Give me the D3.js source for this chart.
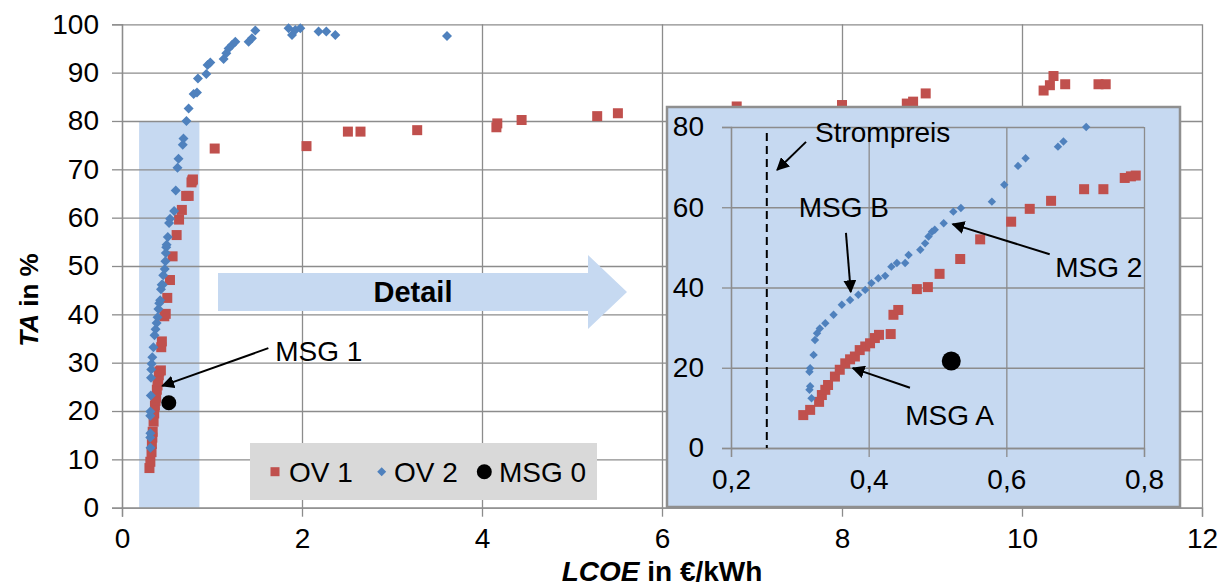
<!DOCTYPE html>
<html><head><meta charset="utf-8">
<script src="https://cdn.jsdelivr.net/npm/d3@7"></script>
<style>
body{margin:0;background:#fff}
svg{display:block}
text{font-family:"Liberation Sans",Arial,sans-serif;fill:#000}
</style>
</head><body>
<svg id="c" width="1222" height="587"></svg>
<script>
// ---------- data ----------
const ov1X = [0.305,0.315,0.328,0.332,0.337,0.341,0.351,0.358,0.366,0.373,0.380,0.387,0.395,0.402,0.409,0.415,0.432,0.436,0.443,0.470,0.486,0.503,0.533,0.562,0.607,0.634,0.665,0.713,0.741,0.772,0.781,0.788,
  1.03,2.05,2.51,2.65,3.28,4.16,4.17,4.44,5.28,5.51,6.83,8.00,8.72,8.79,8.93,10.24,10.31,10.35,10.48,10.85,10.93];
const ov1Y = [8.2,9.5,11.5,13.2,14.5,15.7,17.8,19.5,21.1,22.1,22.8,24.4,25.3,26.1,27.4,28.2,28.4,33.2,34.4,39.6,40.1,43.4,47.1,52.0,56.4,59.6,61.6,64.5,64.5,67.3,67.7,67.9,
  74.3,74.8,77.8,77.8,78.1,78.7,79.5,80.2,81.0,81.6,83.0,83.3,83.6,84.0,85.7,86.3,87.4,89.3,87.6,87.6,87.6];
const ov2X = [0.317,0.314,0.315,0.314,0.315,0.320,0.322,0.325,0.329,0.337,0.349,0.361,0.373,0.385,0.395,0.404,0.414,0.424,0.433,0.441,0.453,0.458,0.475,0.482,0.487,0.492,0.496,0.509,0.523,0.534,0.579,0.597,0.617,0.628,0.675,0.683,0.716,
  0.74,0.796,0.833,0.844,0.937,0.951,0.981,1.129,1.159,1.184,1.222,1.259,1.407,1.444,1.481,1.851,1.889,1.926,1.981,2.184,2.27,2.37,3.611];
const ov2Y = [12.4,14.5,15.4,19.0,19.9,23.2,26.9,28.6,29.8,31.1,33.2,35.7,36.9,38.2,39.4,41.1,42.3,42.9,45.2,46.1,46.1,48.1,49.4,51.0,52.7,53.9,54.4,56.0,58.9,59.8,61.4,65.6,70.3,72.2,75.1,76.4,80.0,
  82.6,85.6,85.9,88.8,89.7,91.6,92.1,92.8,94.0,95.0,95.7,96.4,96.4,97.1,98.7,99.2,97.8,98.8,99.2,98.5,98.5,97.8,97.6];
const msg0X = [0.52];
const msg0Y = [21.7];
const xTicks = [0,2,4,6,8,10,12];
const yTicks = [0,10,20,30,40,50,60,70,80,90,100];
const insetXTicks = [0.2,0.4,0.6,0.8];
const insetYTicks = [0,20,40,60,80];
const detailRangeX = [0.19,0.86];
const detailRangeY = [0,80];
const strompreis = 0.252;
const legendLabels = ["OV 1","OV 2","MSG 0"];
// annotations (data space): [label, textX, textY, anchor, fromX, fromY, toX, toY]
const mainNotes = [["MSG 1",1.703,32.4,"start",1.626,33.0,0.448,25.2]];
const insetNotes = [
  ["Strompreis",0.322,78.8,"start",0.309,76.3,0.267,69.3],
  ["MSG B",0.364,60.1,"middle",0.367,53.6,0.374,38.9],
  ["MSG 2",0.671,45.1,"start",0.663,48.3,0.522,55.8],
  ["MSG A",0.453,8.2,"start",0.460,15.0,0.377,19.9]
];

const RED="#c0504d", BLUE="#4f81bd", LIGHT="#c6d9f1", GRID="#8c8c8c";
const ov1 = ov1X.map((x,i)=>({x, y:ov1Y[i]}));
const ov2 = ov2X.map((x,i)=>({x, y:ov2Y[i]}));
const msg0 = msg0X.map((x,i)=>({x, y:msg0Y[i]}));

const svg = d3.select("#c");
svg.append("rect").attr("width",1222).attr("height",587).attr("fill","#fff");
const defs = svg.append("defs");
defs.append("marker").attr("id","ah").attr("viewBox","0 0 10 10").attr("refX",9).attr("refY",5)
  .attr("markerWidth",6.5).attr("markerHeight",6.5).attr("markerUnits","strokeWidth").attr("orient","auto")
  .append("path").attr("d","M0,0L10,5L0,10z").attr("fill","#000");

// ---------- main chart ----------
const x = d3.scaleLinear([0,12],[122,1202]);
const y = d3.scaleLinear([0,100],[507.7,24.3]);
const FS = 28;

// highlight rect
svg.append("rect")
  .attr("x",x(detailRangeX[0])).attr("y",y(detailRangeY[1]))
  .attr("width",x(detailRangeX[1])-x(detailRangeX[0]))
  .attr("height",y(detailRangeY[0])-y(detailRangeY[1]))
  .attr("fill",LIGHT);

// grid + axes
const gy = svg.append("g").attr("transform",`translate(${x(0)},0)`)
  .call(d3.axisLeft(y).tickValues(yTicks).tickSizeInner(-(x(12)-x(0))).tickSizeOuter(0).tickFormat(""));
const gx = svg.append("g").attr("transform",`translate(0,${y(0)})`)
  .call(d3.axisBottom(x).tickValues(xTicks).tickSizeInner(-(y(0)-y(100))).tickSizeOuter(0).tickFormat(""));
[gy,gx].forEach(g=>{g.select(".domain").remove(); g.selectAll("line").attr("stroke",GRID).attr("stroke-width",1.3);});
const ay = svg.append("g").attr("transform",`translate(${x(0)},0)`)
  .call(d3.axisLeft(y).tickValues(yTicks).tickSize(10).tickPadding(13).tickFormat(d3.format("d")));
const ax = svg.append("g").attr("transform",`translate(0,${y(0)})`)
  .call(d3.axisBottom(x).tickValues(xTicks).tickSize(9).tickPadding(11).tickFormat(d3.format("d")));
[ay,ax].forEach(g=>{
  g.select(".domain").attr("stroke",GRID).attr("stroke-width",1.3);
  g.selectAll("line").attr("stroke",GRID).attr("stroke-width",1.3);
  g.selectAll("text").attr("font-size",FS).attr("font-family","Liberation Sans, Arial, sans-serif").attr("fill","#000");
});

function drawPoints(g, sx, sy, sq, dia, circR){
  g.selectAll(".o1").data(ov1).join("rect").attr("class","o1")
    .attr("x",d=>sx(d.x)-sq/2).attr("y",d=>sy(d.y)-sq/2).attr("width",sq).attr("height",sq).attr("fill",RED);
  g.selectAll(".o2").data(ov2).join("path").attr("class","o2")
    .attr("d",`M0,${-dia/2}L${dia/2},0L0,${dia/2}L${-dia/2},0Z`)
    .attr("transform",d=>`translate(${sx(d.x)},${sy(d.y)})`).attr("fill",BLUE);
  g.selectAll(".m0").data(msg0).join("circle").attr("class","m0")
    .attr("cx",d=>sx(d.x)).attr("cy",d=>sy(d.y)).attr("r",circR).attr("fill","#000");
}
const mainPts = svg.append("g");
drawPoints(mainPts, x, y, 10, 10, 7.5);

// Detail block arrow
const dA = svg.append("g");
dA.append("path").attr("d","M218,273 L588,273 L588,255 L627,292 L588,329 L588,311 L218,311 Z").attr("fill",LIGHT);
dA.append("text").attr("x",413).attr("y",292).attr("dy","0.35em").attr("text-anchor","middle")
  .attr("font-size",29).attr("font-weight","bold").text("Detail");

// annotations
function notes(g, sx, sy, list){
  list.forEach(n=>{
    g.append("line").attr("x1",sx(n[4])).attr("y1",sy(n[5])).attr("x2",sx(n[6])).attr("y2",sy(n[7]))
      .attr("stroke","#000").attr("stroke-width",2).attr("marker-end","url(#ah)");
    g.append("text").attr("x",sx(n[1])).attr("y",sy(n[2])).attr("dy","0.35em").attr("text-anchor",n[3])
      .attr("font-size",FS).text(n[0]);
  });
}
notes(svg.append("g"), x, y, mainNotes);

// legend
const lg = svg.append("g");
lg.append("rect").attr("x",250).attr("y",443).attr("width",347).attr("height",57).attr("fill","#d9d9d9");
lg.append("rect").attr("x",270.5).attr("y",467.2).attr("width",9).attr("height",9).attr("fill",RED);
lg.append("path").attr("d","M0,-4.5L4.5,0L0,4.5L-4.5,0Z").attr("transform","translate(381.7,471.7)").attr("fill",BLUE);
lg.append("circle").attr("cx",484.3).attr("cy",471.7).attr("r",7.5).attr("fill","#000");
[[289,legendLabels[0]],[394,legendLabels[1]],[499,legendLabels[2]]].forEach(([lx,t])=>{
  lg.append("text").attr("x",lx).attr("y",471.7).attr("dy","0.35em").attr("font-size",FS).text(t);
});

// axis titles
const xt = svg.append("text").attr("x",662).attr("y",571).attr("dy","0.35em").attr("text-anchor","middle")
  .attr("font-size",28).attr("font-weight","bold");
xt.append("tspan").attr("font-style","italic").text("LCOE");
xt.append("tspan").text(" in €/kWh");
const yt = svg.append("text").attr("transform","translate(29,300) rotate(-90)").attr("dy","0.35em")
  .attr("text-anchor","middle").attr("font-size",26).attr("font-weight","bold");
yt.append("tspan").attr("font-style","italic").text("TA");
yt.append("tspan").text(" in %");

// ---------- inset ----------
const ix = d3.scaleLinear([0.2,0.8],[731,1144]);
const iy = d3.scaleLinear([0,80],[448,127]);
const ins = svg.append("g");
ins.append("rect").attr("x",667).attr("y",107).attr("width",513).attr("height",400)
  .attr("fill",LIGHT).attr("stroke","#8f8f8f").attr("stroke-width",2.5);
const igy = ins.append("g").attr("transform",`translate(${ix(0.2)},0)`)
  .call(d3.axisLeft(iy).tickValues(insetYTicks).tickSizeInner(-(ix(0.8)-ix(0.2))).tickSizeOuter(0).tickFormat(""));
const igx = ins.append("g").attr("transform",`translate(0,${iy(0)})`)
  .call(d3.axisBottom(ix).tickValues(insetXTicks).tickSizeInner(-(iy(0)-iy(80))).tickSizeOuter(0).tickFormat(""));
[igy,igx].forEach(g=>{g.select(".domain").remove(); g.selectAll("line").attr("stroke",GRID).attr("stroke-width",1.3);});
const iay = ins.append("g").attr("transform",`translate(${ix(0.2)},0)`)
  .call(d3.axisLeft(iy).tickValues(insetYTicks).tickSize(9).tickPadding(18).tickFormat(d3.format("d")));
const iax = ins.append("g").attr("transform",`translate(0,${iy(0)})`)
  .call(d3.axisBottom(ix).tickValues(insetXTicks).tickSize(9).tickPadding(12).tickFormat(d=>d.toFixed(1).replace(".",",")));
[iay,iax].forEach(g=>{
  g.select(".domain").attr("stroke",GRID).attr("stroke-width",1.3);
  g.selectAll("line").attr("stroke",GRID).attr("stroke-width",1.3);
  g.selectAll("text").attr("font-size",FS).attr("font-family","Liberation Sans, Arial, sans-serif").attr("fill","#000");
});
// strompreis dashed line
ins.append("line").attr("x1",ix(strompreis)).attr("x2",ix(strompreis)).attr("y1",iy(78.5)).attr("y2",iy(0))
  .attr("stroke","#000").attr("stroke-width",2).attr("stroke-dasharray","8,5");
defs.append("clipPath").attr("id","iclip").append("rect")
  .attr("x",ix(0.2)-8).attr("y",iy(80)-8).attr("width",ix(0.8)-ix(0.2)+16).attr("height",iy(0)-iy(80)+16);
const inPts = ins.append("g").attr("clip-path","url(#iclip)");
// only points within the detail window
const keep = d=>d.x>=0.2&&d.x<=0.8&&d.y>=0&&d.y<=80.5;
inPts.selectAll(".o1").data(ov1.filter(keep)).join("rect").attr("class","o1")
  .attr("x",d=>ix(d.x)-5).attr("y",d=>iy(d.y)-5).attr("width",10).attr("height",10).attr("fill",RED);
inPts.selectAll(".o2").data(ov2.filter(keep)).join("path").attr("class","o2")
  .attr("d","M0,-4.2L4.2,0L0,4.2L-4.2,0Z")
  .attr("transform",d=>`translate(${ix(d.x)},${iy(d.y)})`).attr("fill",BLUE);
inPts.selectAll(".m0").data(msg0.filter(keep)).join("circle").attr("class","m0")
  .attr("cx",d=>ix(d.x)).attr("cy",d=>iy(d.y)).attr("r",9.5).attr("fill","#000");
notes(ins.append("g"), ix, iy, insetNotes);
</script>
</body></html>
